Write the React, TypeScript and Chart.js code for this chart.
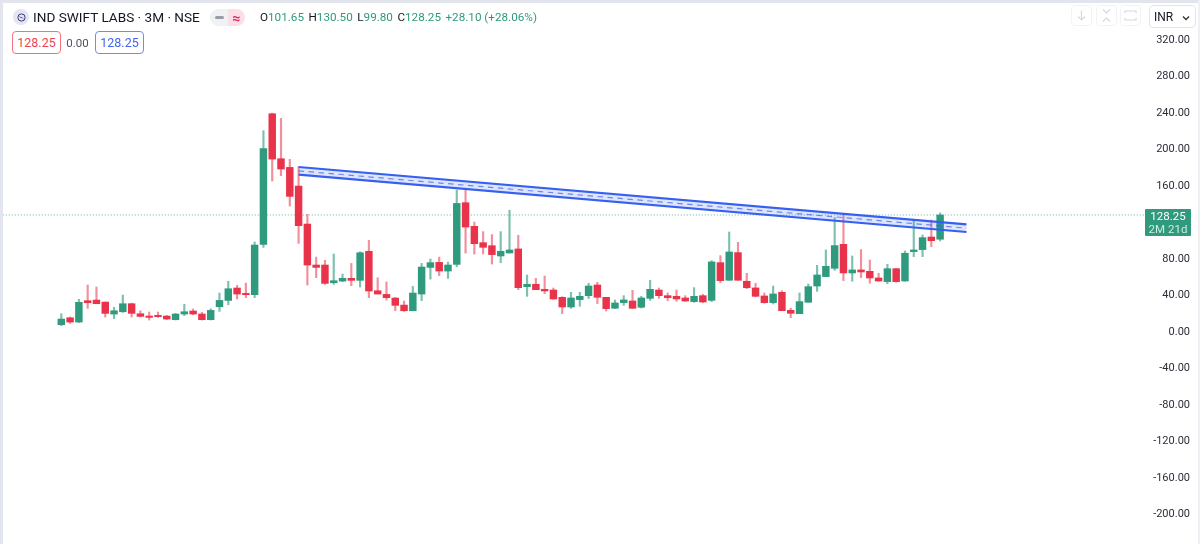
import React, { useEffect, useRef } from "react";
import { Chart, registerables } from "chart.js";

Chart.register(...registerables);

const opens = [8.0,15.6,10.9,34.3,35.0,32.8,19.7,22.2,31.0,20.0,17.5,18.2,17.5,13.5,19.7,23.0,19.7,13.5,27.7,34.6,48.2,42.3,40.9,96.0,239.2,189.9,180.4,159.9,118.3,73.4,73.4,54.0,55.8,58.8,56.6,88.4,45.2,41.2,37.2,29.5,23.3,41.6,70.8,76.3,66.8,74.1,141.7,115.8,97.9,94.6,83.3,86.6,91.0,49.7,52.3,46.8,46.0,38.0,27.4,35.5,39.8,51.5,38.0,26.0,32.2,34.0,27.1,36.9,46.0,39.8,39.1,37.3,33.3,39.8,34.7,76.0,56.7,87.0,55.6,48.3,39.5,32.2,43.5,23.8,20.1,32.6,50.4,60.7,69.8,96.1,64.7,68.0,66.5,59.2,55.2,69.4,55.9,88.1,90.3,104.1,101.65];
const highs = [20.0,16.4,35.8,51.5,49.3,32.8,27.0,40.5,31.7,23.3,21.9,21.9,18.2,20.4,30.3,25.2,21.5,25.5,42.7,55.5,51.1,53.6,98.6,220.6,239.9,234.1,189.2,181.1,128.9,82.1,78.5,85.4,63.5,75.2,88.0,100.4,59.5,54.8,37.9,33.9,50.0,75.2,80.0,82.1,76.7,155.6,156.3,120.5,110.0,106.7,110.0,133.4,106.0,62.5,58.8,61.4,48.2,38.7,43.5,43.5,53.4,54.5,38.0,35.1,39.8,45.7,39.1,56.6,48.2,42.8,46.0,39.8,48.6,41.3,78.2,83.7,109.6,98.3,64.3,53.4,42.8,50.4,45.3,26.0,42.8,52.6,73.1,89.9,125.3,130.1,83.3,90.3,78.9,64.3,74.2,69.8,88.8,122.0,106.3,122.8,130.5];
const lows = [6.9,9.4,10.2,25.9,31.0,16.4,14.6,21.5,16.4,16.4,13.1,16.0,13.5,13.1,17.9,18.9,13.1,13.1,22.6,29.9,36.1,37.6,37.6,92.7,165.4,171.3,138.0,97.1,51.5,59.5,52.2,52.2,55.1,50.7,49.3,37.6,41.6,34.9,23.3,22.6,23.3,34.3,58.0,61.7,58.8,71.5,86.5,85.4,85.5,74.5,76.0,86.6,46.4,39.1,46.4,42.0,35.8,20.1,26.0,28.2,36.6,31.1,23.0,25.6,29.2,25.6,26.3,34.7,36.9,34.4,33.6,33.3,32.5,32.2,33.3,54.1,56.7,56.7,47.5,38.4,31.5,30.7,23.4,15.7,20.1,32.2,44.6,60.7,67.6,56.3,55.6,59.6,53.4,55.6,53.0,54.5,55.6,82.6,82.6,93.6,99.8];
const closes = [14.2,10.9,32.5,32.1,31.0,20.4,23.3,31.0,20.4,17.1,16.0,16.8,14.2,19.7,22.2,19.7,13.5,23.7,34.6,47.4,41.6,40.9,95.3,200.9,189.5,178.6,148.6,116.5,73.4,70.8,53.3,56.2,58.8,56.6,86.9,44.9,41.6,37.6,29.2,23.3,42.7,71.2,76.0,66.8,73.4,140.9,115.0,96.8,92.8,84.8,88.4,89.9,48.6,52.3,46.4,45.0,36.2,27.4,37.3,39.1,50.4,38.0,25.6,31.8,35.1,26.0,37.3,46.8,39.8,37.6,36.2,34.0,39.1,32.9,76.8,56.3,87.7,56.7,48.6,39.1,32.2,41.7,23.4,20.5,33.3,49.7,62.5,72.0,94.7,64.7,68.0,65.8,59.2,55.9,69.4,55.2,86.3,89.9,103.4,100.1,128.25];

const tickValues = [320, 280, 240, 200, 160, 80, 40, 0, -40, -80, -120, -160, -200];
const lastPrice = 128.25;
const channelX = [27, 103];
const channelUpper = [180.8, 118.0];
const channelMiddle = [176.6, 113.8];
const channelLower = [172.4, 109.6];

const UP = "#2f9a7d";
const DOWN = "#e8334a";
const UP_WICK = "rgba(47,154,125,0.62)";
const DOWN_WICK = "rgba(232,51,74,0.55)";
const BLUE = "#3560f0";
const FONT = "Roboto, sans-serif";

const pair = (xs: number[], ys: number[]) => xs.map((x, i) => ({ x, y: ys[i] }));

function Abs({ x, y, w, h, style, children }: any) {
  return (
    <div
      style={{
        position: "absolute",
        left: x,
        top: y,
        width: w,
        height: h,
        boxSizing: "border-box",
        display: "flex",
        alignItems: "center",
        justifyContent: "center",
        whiteSpace: "nowrap",
        ...style,
      }}
    >
      {children}
    </div>
  );
}

export default function App() {
  const ref = useRef<HTMLCanvasElement>(null);

  useEffect(() => {
    const isUp = closes.map((c, i) => c >= opens[i]);
    const chart = new Chart(ref.current as HTMLCanvasElement, {
      type: "bar",
      data: {
        datasets: [
          {
            type: "line",
            label: "Last",
            data: pair([-7, 124], [lastPrice, lastPrice]),
            borderColor: "rgba(47,154,125,0.75)",
            borderWidth: 1,
            borderDash: [1, 2],
            pointRadius: 0,
            order: 5,
          },
          {
            label: "Wick",
            data: highs.map((h, i) => ({ x: i, y: [lows[i], h] })),
            backgroundColor: isUp.map((u) => (u ? UP_WICK : DOWN_WICK)),
            barThickness: 1.5,
            grouped: false,
            order: 4,
          },
          {
            label: "Body",
            data: opens.map((o, i) => ({ x: i, y: [o, closes[i]] })),
            backgroundColor: isUp.map((u) => (u ? UP : DOWN)),
            barThickness: 6.8,
            grouped: false,
            order: 3,
          },
          {
            type: "line",
            label: "Upper",
            data: pair(channelX, channelUpper),
            borderColor: BLUE,
            borderWidth: 2.2,
            pointRadius: 0,
            fill: false,
            order: 1,
          },
          {
            type: "line",
            label: "Middle",
            data: pair(channelX, channelMiddle),
            borderColor: "rgba(53,96,240,0.7)",
            borderWidth: 1.2,
            borderDash: [5.5, 4.5],
            pointRadius: 0,
            fill: false,
            order: 1,
          },
          {
            type: "line",
            label: "Lower",
            data: pair(channelX, channelLower),
            borderColor: BLUE,
            borderWidth: 2.2,
            pointRadius: 0,
            fill: { target: 3 },
            backgroundColor: "rgba(53,96,240,0.16)",
            order: 1,
          },
        ] as any,
      },
      options: {
        responsive: false,
        animation: false,
        events: [],
        layout: { padding: { left: 3, top: 3, bottom: 3, right: 10 } },
        plugins: { legend: { display: false }, tooltip: { enabled: false } },
        scales: {
          x: { type: "linear", display: false, min: -6.635, max: 123.2, offset: false },
          y: {
            position: "right",
            min: -229.04,
            max: 360.55,
            border: { display: false },
            grid: { display: false, drawTicks: false },
            afterBuildTicks: (s: any) => {
              s.ticks = tickValues.map((value) => ({ value }));
            },
            afterFit: (s: any) => {
              s.width = 46;
              s.paddingTop = 0;
              s.paddingBottom = 0;
            },
            ticks: {
              padding: 4.5,
              crossAlign: "far",
              color: "#2a2e39",
              font: { family: FONT, size: 11 },
              callback: (v: any) => Number(v).toFixed(2),
            },
          },
        },
      } as any,
    });
    return () => chart.destroy();
  }, []);

  const green = "#2f9a7d";
  const item = (k: string, v: string) => (
    <span style={{ marginRight: 4.5 }}>
      <span style={{ color: "#131722" }}>{k}</span>
      <span style={{ color: green }}>{v}</span>
    </span>
  );
  const iconBox = (x: number, glyph: React.ReactNode) => (
    <Abs x={x} y={5} w={21} h={21} style={{ border: "1px solid #f2f3f7", borderRadius: 4 }}>
      {glyph}
    </Abs>
  );
  const stroke = { stroke: "#d5d8e0", strokeWidth: 1.2, fill: "none" };

  return (
    <div
      style={{
        position: "absolute",
        left: 0,
        top: 0,
        width: 1200,
        height: 544,
        overflow: "hidden",
        background: "#fff",
        fontFamily: FONT,
      }}
    >
      <canvas ref={ref} width={1200} height={544} style={{ position: "absolute", left: 0, top: 0 }} />
      <div style={{ position: "absolute", left: 0, top: 0, width: 3, height: 544, background: "#e2e4ee" }} />
      <div style={{ position: "absolute", left: 0, top: 0, width: 1200, height: 2.5, background: "#e2e4ee" }} />
      <div style={{ position: "absolute", left: 1198, top: 0, width: 2, height: 544, background: "#eef0f5" }} />

      <Abs x={13} y={9} w={16} h={16} style={{ borderRadius: "50%", background: "#e4e4f4" }}>
        <svg width="9" height="9" viewBox="0 0 9 9">
          <circle cx="4.5" cy="4.5" r="3.6" fill="none" stroke="#3c3a78" strokeWidth="1" />
          <path d="M1.5 3 L7.5 5.5 L4 5 Z" fill="#3c3a78" />
        </svg>
      </Abs>
      <Abs x={33} y={7} w={165} h={20} style={{ justifyContent: "flex-start", fontSize: 13.6, color: "#131722" }}>
        IND SWIFT LABS · 3M · NSE
      </Abs>
      <Abs x={210} y={9} w={18} h={17} style={{ background: "#f0f1f4", borderRadius: "9px 0 0 9px" }}>
        <div style={{ width: 9, height: 3, borderRadius: 2, background: "#9a9ca6" }} />
      </Abs>
      <Abs x={228} y={9} w={17} h={17} style={{ background: "#fbdfe7", borderRadius: "0 9px 9px 0", color: "#e0245e", fontSize: 14, fontWeight: 700 }}>
        ≈
      </Abs>
      <Abs x={260} y={7} w={280} h={20} style={{ justifyContent: "flex-start", fontSize: 11.7 }}>
        {item("O", "101.65")}
        {item("H", "130.50")}
        {item("L", "99.80")}
        {item("C", "128.25")}
        <span style={{ color: green }}>+28.10 (+28.06%)</span>
      </Abs>

      <Abs x={12} y={31} w={49} h={23} style={{ border: "1px solid #f4707f", borderRadius: 4, color: "#ef4355", fontSize: 12.5, background: "#fff" }}>
        128.25
      </Abs>
      <Abs x={65} y={31} w={25} h={23} style={{ color: "#50535e", fontSize: 11.5 }}>
        0.00
      </Abs>
      <Abs x={95} y={31} w={49} h={23} style={{ border: "1px solid #6d8cf5", borderRadius: 4, color: "#3f66ee", fontSize: 12.5, background: "#fff" }}>
        128.25
      </Abs>

      {iconBox(1071, (
        <svg width="13" height="13" viewBox="0 0 13 13">
          <path d="M6.5 1.5 V11 M3 7.5 L6.5 11 L10 7.5" {...stroke} />
        </svg>
      ))}
      {iconBox(1096, (
        <svg width="13" height="15" viewBox="0 0 13 15">
          <path d="M3 1.5 L6.5 5 L10 1.5 M3 13.5 L6.5 10 L10 13.5" {...stroke} />
        </svg>
      ))}
      {iconBox(1120, (
        <svg width="15" height="13" viewBox="0 0 15 13">
          <path d="M2 4 V2 H13 V4 M2 9 V11 H13 V9" {...stroke} />
        </svg>
      ))}
      <Abs x={1149} y={5} w={47} h={23} style={{ border: "1px solid #e2e4ea", borderRadius: 4, justifyContent: "flex-start", paddingLeft: 4, fontSize: 12, color: "#131722" }}>
        INR
        <svg width="8" height="6" viewBox="0 0 8 6" style={{ position: "absolute", right: 5, top: 9 }}>
          <path d="M1 1.5 L4 4.5 L7 1.5" fill="none" stroke="#333" strokeWidth="1.3" />
        </svg>
      </Abs>

      <div
        style={{
          position: "absolute",
          left: 1145,
          top: 209,
          width: 46,
          height: 27,
          background: green,
          borderRadius: 1,
          textAlign: "center",
          fontSize: 11.5,
          lineHeight: "13px",
          paddingTop: 0.5,
          boxSizing: "border-box",
        }}
      >
        <div style={{ color: "#fff" }}>128.25</div>
        <div style={{ color: "#cfeae2" }}>2M 21d</div>
      </div>
    </div>
  );
}
